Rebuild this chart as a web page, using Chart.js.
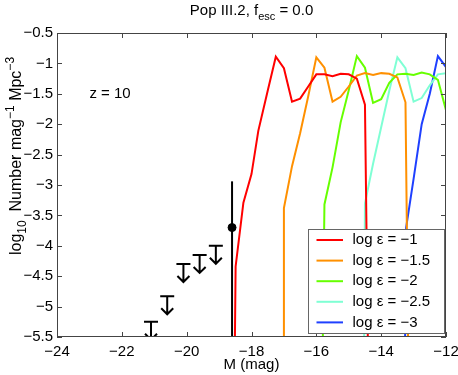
<!DOCTYPE html>
<html>
<head>
<meta charset="utf-8">
<title>Pop III.2 luminosity function, z = 10</title>
<script src="https://cdn.jsdelivr.net/npm/chart.js@4.4.0/dist/chart.umd.min.js"></script>
<style>
  html, body { margin: 0; padding: 0; background: #fff; }
</style>
</head>
<body>
<canvas id="lfChart" width="458" height="375"></canvas>
<script>
// model curves, one per log epsilon
const epsLabels = ['log ε = −1', 'log ε = −1.5', 'log ε = −2', 'log ε = −2.5', 'log ε = −3'];
const epsColors = ['#ff0000', '#ff9000', '#66ff00', '#7fffd4', '#1f40ff'];

const magEps1 = [-18.52, -18.49, -18.25, -18.0, -17.79, -17.5, -17.25, -17.0, -16.75, -16.5, -16.25, -16.0, -15.75, -15.5, -15.25, -15.0, -14.75, -14.5, -14.4];
const lfEps1 = [-6.0, -4.34, -3.29, -2.82, -2.11, -1.45, -0.89, -1.08, -1.63, -1.58, -1.38, -1.18, -1.18, -1.21, -1.17, -1.18, -1.25, -1.68, -6.0];

const magEps15 = [-17.02, -17.0, -16.75, -16.5, -16.25, -16.0, -15.75, -15.5, -15.25, -15.0, -14.75, -14.5, -14.25, -14.0, -13.75, -13.5, -13.25, -13.16];
const lfEps15 = [-6.0, -3.38, -2.69, -2.15, -1.54, -0.9, -1.07, -1.63, -1.55, -1.38, -1.2, -1.16, -1.19, -1.16, -1.17, -1.23, -1.64, -6.0];

const magEps2 = [-15.81, -15.75, -15.5, -15.25, -15.0, -14.75, -14.5, -14.25, -14.0, -13.75, -13.5, -13.25, -13.0, -12.75, -12.5, -12.25, -12.0];
const lfEps2 = [-6.0, -3.32, -2.71, -1.97, -1.44, -0.88, -1.07, -1.65, -1.59, -1.32, -1.18, -1.17, -1.19, -1.15, -1.18, -1.27, -1.77];

const magEps25 = [-14.53, -14.5, -14.25, -14.0, -13.75, -13.5, -13.25, -13.0, -12.75, -12.5, -12.25, -12.0];
const lfEps25 = [-6.0, -3.3, -2.65, -2.05, -1.45, -0.9, -1.08, -1.63, -1.57, -1.36, -1.18, -1.16];

const magEps3 = [-13.27, -13.23, -13.0, -12.75, -12.5, -12.25, -12.0];
const lfEps3 = [-6.0, -3.7, -2.9, -2.0, -1.5, -0.88, -1.06];

// observed point with error bar, and upper limits
const obsMag = [-18.6];
const obsLf = [-3.7];
const obsErrHigh = [-2.94];
const obsErrLow = [-6.0];

const limMag = [-21.1, -20.6, -20.1, -19.6, -19.1];
const limLf = [-5.25, -4.83, -4.3, -4.15, -4.0];

const xTicks = [-24, -22, -20, -18, -16, -14, -12];
const yTicks = [-5.5, -5, -4.5, -4, -3.5, -3, -2.5, -2, -1.5, -1, -0.5];

const FONT = '"Liberation Sans", Arial, Helvetica, sans-serif';
Chart.defaults.font.family = FONT;
Chart.defaults.color = '#000';

const curveMags = [magEps1, magEps15, magEps2, magEps25, magEps3];
const curveLfs = [lfEps1, lfEps15, lfEps2, lfEps25, lfEps3];

function toPoints(xs, ys) {
  return xs.map((x, i) => ({ x: x, y: ys[i] }));
}

function minus(v) {
  return String(v).replace('-', '\u2212');
}

// text with sub/superscripts, centred on x
function drawRich(ctx, parts, x, y) {
  let w = 0;
  parts.forEach(p => { ctx.font = p[1] + 'px ' + FONT; w += ctx.measureText(p[0]).width; });
  let cx = x - w / 2;
  ctx.textAlign = 'left';
  ctx.textBaseline = 'alphabetic';
  parts.forEach(p => {
    ctx.font = p[1] + 'px ' + FONT;
    ctx.fillText(p[0], cx, y + p[2]);
    cx += ctx.measureText(p[0]).width;
  });
}

const decorPlugin = {
  id: 'decor',
  beforeDatasetsDraw(chart) {
    const { ctx, chartArea: a, scales } = chart;
    ctx.save();
    ctx.beginPath();
    ctx.rect(a.left, a.top, a.right - a.left, a.bottom - a.top);
    ctx.clip();
    ctx.strokeStyle = '#000';
    ctx.lineWidth = 2;
    obsMag.forEach((m, i) => {
      const x = scales.x.getPixelForValue(m);
      ctx.beginPath();
      ctx.moveTo(x, scales.y.getPixelForValue(obsErrHigh[i]));
      ctx.lineTo(x, scales.y.getPixelForValue(obsErrLow[i]));
      ctx.stroke();
    });
    ctx.restore();
  },
  afterDatasetsDraw(chart) {
    const { ctx, chartArea: a, scales } = chart;
    ctx.save();

    // upper limit arrows
    ctx.beginPath();
    ctx.rect(a.left, a.top, a.right - a.left, a.bottom - a.top);
    ctx.clip();
    const limMeta = chart.getDatasetMeta(6);
    ctx.strokeStyle = '#000';
    ctx.lineWidth = 2;
    limMeta.data.forEach(pt => {
      ctx.beginPath();
      ctx.moveTo(pt.x - 7, pt.y);
      ctx.lineTo(pt.x + 7, pt.y);
      ctx.moveTo(pt.x, pt.y);
      ctx.lineTo(pt.x, pt.y + 18);
      ctx.moveTo(pt.x - 6, pt.y + 12);
      ctx.lineTo(pt.x, pt.y + 18);
      ctx.lineTo(pt.x + 6, pt.y + 12);
      ctx.stroke();
    });
    ctx.restore();

    ctx.save();
    // frame and inward ticks
    ctx.strokeStyle = '#444';
    ctx.lineWidth = 1;
    ctx.strokeRect(a.left + 0.5, a.top + 0.5, a.right - a.left - 1, a.bottom - a.top - 1);
    ctx.beginPath();
    xTicks.forEach(v => {
      const x = Math.round(scales.x.getPixelForValue(v)) + 0.5;
      ctx.moveTo(x, a.bottom); ctx.lineTo(x, a.bottom - 5);
      ctx.moveTo(x, a.top); ctx.lineTo(x, a.top + 5);
    });
    yTicks.forEach(v => {
      const y = Math.round(scales.y.getPixelForValue(v)) + 0.5;
      ctx.moveTo(a.left, y); ctx.lineTo(a.left + 5, y);
      ctx.moveTo(a.right, y); ctx.lineTo(a.right - 5, y);
    });
    ctx.stroke();

    // redshift note
    ctx.fillStyle = '#000';
    ctx.font = '15px ' + FONT;
    ctx.textAlign = 'left';
    ctx.textBaseline = 'middle';
    ctx.fillText('z = 10', scales.x.getPixelForValue(-23), scales.y.getPixelForValue(-1.5));

    // legend box
    const lw = 136, lh = 104;
    const lx = a.right - 2 - lw, ly = a.bottom - 4 - lh;
    ctx.fillStyle = '#fff';
    ctx.fillRect(lx, ly, lw, lh);
    ctx.strokeStyle = '#666';
    ctx.strokeRect(lx + 0.5, ly + 0.5, lw, lh);
    epsLabels.forEach((lab, i) => {
      const ry = ly + 11 + i * 20.6;
      ctx.strokeStyle = epsColors[i];
      ctx.lineWidth = 2;
      ctx.beginPath();
      ctx.moveTo(lx + 8.5, ry);
      ctx.lineTo(lx + 35, ry);
      ctx.stroke();
      ctx.fillStyle = '#000';
      ctx.font = '15px ' + FONT;
      ctx.textBaseline = 'middle';
      ctx.fillText(lab, lx + 44.5, ry);
    });

    // titles
    ctx.fillStyle = '#000';
    const midX = (a.left + a.right) / 2;
    drawRich(ctx, [['Pop III.2, f', 15, 0], ['esc', 11, 5], [' = 0.0', 15, 0]], midX, 15);
    drawRich(ctx, [['M (mag)', 15, 0]], midX, a.bottom + 32);
    ctx.translate(21, 156);
    ctx.rotate(-Math.PI / 2);
    drawRich(ctx, [['log', 16, 0], ['10', 12, 5], ['  Number mag', 16, 0], ['\u22121', 12, -7],
      [' Mpc', 16, 0], ['\u22123', 12, -7]], 0, 0);
    ctx.restore();
  }
};

document.addEventListener('DOMContentLoaded', () => {
  const ctx = document.getElementById('lfChart').getContext('2d');

  const datasets = curveMags.map((mags, i) => ({
    label: epsLabels[i],
    data: toPoints(mags, curveLfs[i]),
    showLine: true,
    borderColor: epsColors[i],
    backgroundColor: epsColors[i],
    borderWidth: 2,
    pointRadius: 0,
    tension: 0
  }));

  datasets.push({
    label: 'observed',
    data: toPoints(obsMag, obsLf),
    pointRadius: 4,
    backgroundColor: '#000',
    borderColor: '#000'
  });

  datasets.push({
    label: 'upper limits',
    data: toPoints(limMag, limLf),
    pointRadius: 0,
    borderColor: '#000'
  });

  new Chart(ctx, {
    type: 'scatter',
    data: { datasets: datasets },
    options: {
      responsive: false,
      animation: false,
      layout: { padding: { top: 33, right: 12, left: 0, bottom: 0 } },
      plugins: {
        legend: { display: false },
        tooltip: { enabled: false }
      },
      scales: {
        x: {
          type: 'linear',
          min: -24,
          max: -12,
          afterBuildTicks: axis => { axis.ticks = xTicks.map(v => ({ value: v })); },
          afterFit: scale => {
            scale.height = 38;
            scale.paddingLeft = 0;
            scale.paddingRight = 0;
          },
          grid: { display: false, drawTicks: false },
          border: { display: false },
          ticks: { font: { size: 15 }, padding: 6, maxRotation: 0, callback: v => minus(v) }
        },
        y: {
          type: 'linear',
          min: -5.5,
          max: -0.5,
          afterBuildTicks: axis => { axis.ticks = yTicks.map(v => ({ value: v })); },
          afterFit: scale => {
            scale.width = 57;
            scale.paddingTop = 0;
            scale.paddingBottom = 0;
          },
          grid: { display: false, drawTicks: false },
          border: { display: false },
          ticks: { font: { size: 15 }, padding: 4, callback: v => minus(v) }
        }
      }
    },
    plugins: [decorPlugin]
  });
});
</script>
</body>
</html>
